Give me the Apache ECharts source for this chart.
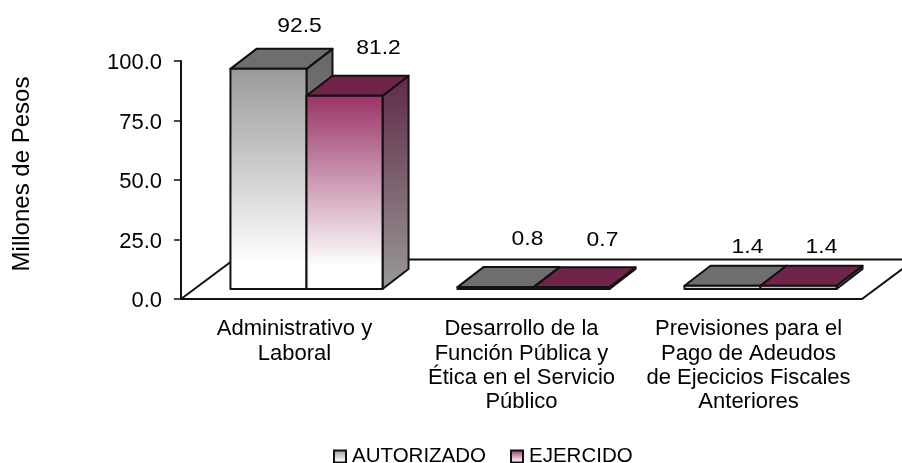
<!DOCTYPE html>
<html>
<head>
<meta charset="utf-8">
<style>
	html, body { margin: 0; padding: 0; background: #fff; }
	#chart { width: 902px; height: 463px; }
</style>
<script src="https://cdn.jsdelivr.net/npm/echarts@6/dist/echarts.min.js"></script>
</head>
<body>
<div id="chart"></div>
<script>
var categories = [
	"Administrativo y\nLaboral",
	"Desarrollo de la\nFunción Pública y\nÉtica en el Servicio\nPúblico",
	"Previsiones para el\nPago de Adeudos\nde Ejecicios Fiscales\nAnteriores"
];
var autorizado = [92.5, 0.8, 1.4];
var ejercido = [81.2, 0.7, 1.4];
var yMin = 0;
var yMax = 100;
var yStep = 25;

var font = "Liberation Sans";
var depthX = 26;
var depthY = 20;
var shiftX = 12;
var shiftY = -10;

function fade(color) {
	return new echarts.graphic.LinearGradient(0, 0, 0, 1, [
		{offset: 0, color: color},
		{offset: 0.88, color: "#ffffff"},
		{offset: 1, color: "#ffffff"}
	]);
}

//one 3d box: side 0 sits left of the band centre, side 1 right of it
function barRenderer(side, frontColor, topColor, sideFrom, sideTo, labelDx, labelDy) {
	return function (params, api) {
		var idx = api.value(0);
		var val = api.value(1);
		var base = api.coord([idx, 0]);
		var top = api.coord([idx, val]);
		var w = api.size([1, 0])[0] * 0.335;
		var x0 = base[0] + shiftX + (side == 0 ? -w : 0);
		var x1 = x0 + w;
		var y0 = base[1] + shiftY;
		var y1 = top[1] + shiftY;
		var line = {stroke: "#111", lineWidth: 2, lineJoin: "round"};
		return {
			type: "group",
			children: [
				{
					type: "polygon",
					shape: {points: [[x1, y0], [x1 + depthX, y0 - depthY], [x1 + depthX, y1 - depthY], [x1, y1]]},
					style: Object.assign({
						fill: new echarts.graphic.LinearGradient(0, 0, 0, 1, [
							{offset: 0, color: sideFrom},
							{offset: 1, color: sideTo}
						])
					}, line)
				},
				{
					type: "polygon",
					shape: {points: [[x0, y1], [x0 + depthX, y1 - depthY], [x1 + depthX, y1 - depthY], [x1, y1]]},
					style: Object.assign({fill: topColor}, line)
				},
				{
					type: "rect",
					shape: {x: x0, y: y1, width: w, height: y0 - y1},
					style: Object.assign({fill: fade(frontColor)}, line)
				},
				{
					type: "text",
					x: x0 + w / 2 + labelDx[idx],
					y: y1 - depthY + labelDy[idx],
					scaleX: 1.09,
					style: {
						text: val.toFixed(1),
						fill: "#000",
						font: "21px '" + font + "'",
						align: "center",
						verticalAlign: "middle"
					}
				}
			]
		};
	};
}

//floor plane that the boxes stand on, runs off the right side of the picture
function floorRenderer(params, api) {
	var a = api.coord([0, 0]);
	var b = api.coord([categories.length - 1, 0]);
	var band = api.size([1, 0])[0];
	var left = a[0] - band / 2;
	var right = b[0] + band / 2;
	return {
		type: "polyline",
		shape: {points: [[left, a[1]], [left + 53, a[1] - 39.5], [right + 53, a[1] - 39.5], [right, a[1]]]},
		style: {fill: "none", stroke: "#111", lineWidth: 2}
	};
}

var chart = echarts.init(document.getElementById("chart"));
chart.setOption({
	animation: false,
	backgroundColor: "#fff",
	textStyle: {fontFamily: font, color: "#000"},
	grid: {left: 181, right: 40, top: 61, height: 238},
	legend: {
		data: ["AUTORIZADO", "EJERCIDO"],
		top: 441,
		left: 328,
		icon: "rect",
		itemWidth: 12,
		itemHeight: 12,
		itemGap: 24,
		textStyle: {fontFamily: font, fontSize: 20.5, color: "#000", padding: [0, 0, 0, 1]}
	},
	xAxis: {
		type: "category",
		data: categories,
		axisLine: {lineStyle: {color: "#111", width: 2}},
		axisTick: {length: 6, lineStyle: {color: "#111", width: 1.5}},
		axisLabel: {fontFamily: font, fontSize: 22, color: "#000", margin: 18, lineHeight: 24.3, interval: 0}
	},
	yAxis: {
		type: "value",
		min: yMin,
		max: yMax,
		interval: yStep,
		name: "Millones de Pesos",
		nameLocation: "middle",
		nameGap: 147,
		nameTextStyle: {fontFamily: font, fontSize: 24, color: "#000", padding: [0, 0, 0, 12]},
		splitLine: {show: false},
		axisLine: {show: true, lineStyle: {color: "#111", width: 2}},
		axisTick: {show: true, length: 7, lineStyle: {color: "#111", width: 1.5}},
		axisLabel: {
			fontFamily: font,
			fontSize: 22,
			color: "#000",
			margin: 19,
			verticalAlign: "top",
			lineHeight: 22,
			padding: [-9, 0, 0, 0],
			formatter: function (v) { return v.toFixed(1); }
		}
	},
	series: [
		{
			type: "custom",
			silent: true,
			z: 1,
			data: [[0]],
			renderItem: floorRenderer
		},
		{
			name: "AUTORIZADO",
			type: "custom",
			z: 2,
			itemStyle: {color: fade("#999999"), borderColor: "#111", borderWidth: 2},
			encode: {x: 0, y: 1},
			data: autorizado.map(function (v, i) { return [i, v]; }),
			renderItem: barRenderer(0, "#999999", "#6e6e6e", "#666666", "#999999", [31, 32, 25], [-23, -28, -18])
		},
		{
			name: "EJERCIDO",
			type: "custom",
			z: 3,
			itemStyle: {color: fade("#993366"), borderColor: "#111", borderWidth: 2},
			encode: {x: 0, y: 1},
			data: ejercido.map(function (v, i) { return [i, v]; }),
			renderItem: barRenderer(1, "#993366", "#702449", "#5f2a45", "#999999", [34, 31, 23], [-28, -27, -18])
		}
	]
});
</script>
</body>
</html>
